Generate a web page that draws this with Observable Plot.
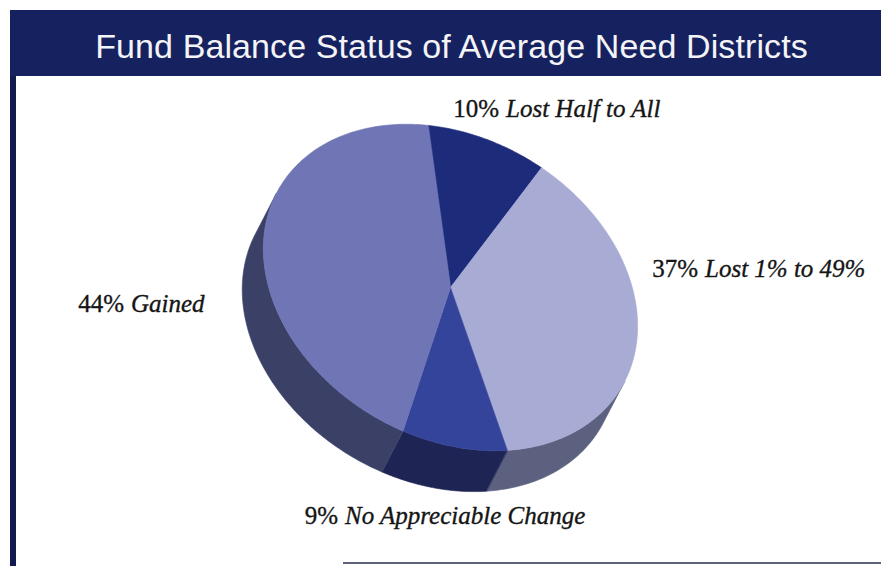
<!DOCTYPE html>
<html>
<head>
<meta charset="utf-8">
<script src="https://cdn.jsdelivr.net/npm/d3@7"></script>
<script src="https://cdn.jsdelivr.net/npm/@observablehq/plot@0.6"></script>
<style>
  html, body { margin: 0; padding: 0; background: #ffffff; width: 881px; height: 566px; overflow: hidden; }
  #leftBorder { position: absolute; left: 10px; top: 10px; width: 6px; height: 556px; background: #121a4e; }
  #title { position: absolute; left: 10px; top: 10px; width: 859px; height: 63px; padding: 3px 0 0 12px;
           background: #16225f; color: #f4f4f6; font-family: "Liberation Sans", sans-serif; font-size: 34px;
           letter-spacing: 0.1px; line-height: 66px; text-align: center; white-space: nowrap; }
  #chart { position: absolute; left: 16px; top: 76px; width: 865px; height: 490px; background: #ffffff; }
  #bottomLine { position: absolute; left: 343px; top: 562px; width: 538px; height: 2px; background: #5d627e; }
</style>
</head>
<body>
<div id="leftBorder"></div>
<div id="title">Fund Balance Status of Average Need Districts</div>
<div id="chart"></div>
<div id="bottomLine"></div>
<script>
// ---- data ----
const categories = ["Lost Half to All", "Lost 1% to 49%", "No Appreciable Change", "Gained"];
const percents = [10, 37, 9, 44];
const percentLabels = ["10%", "37%", "9%", "44%"];

// ---- styles ----
const topPalette  = ["#1c2c7a", "#a8acd5", "#35449b", "#6f75b5"];
const sidePalette = ["#161d4a", "#5c6180", "#1e2453", "#3b4067"];

// ---- layout (3D pie projection) ----
const W = 865, H = 490;
const PX = 198;               // pixels per unit radius
const cx = 434, cy = 211;     // pie centre inside the svg (px)
const tilt = 30 * Math.PI / 180;
const minor = 0.757;          // minor/major axis ratio of the tilted top face
const startDeg = -120.5;      // parametric angle where the first slice starts
const depthPx = 46;           // thickness of the pie
const sideCenterDeg = 88;     // parametric angle facing the viewer
// label anchors: offset (px) from pie centre of the gap between percent and italic text, baseline
const labelOffsets = [[52, -171], [251, -11], [-109, 236], [-323, 24]];

const rad = d => d * Math.PI / 180;
function rim(tDeg) {
  const t = rad(tDeg);
  return [Math.cos(t) * Math.cos(tilt) - minor * Math.sin(t) * Math.sin(tilt),
          Math.cos(t) * Math.sin(tilt) + minor * Math.sin(t) * Math.cos(tilt)];
}
const dv = rim(sideCenterDeg);
const dl = Math.hypot(dv[0], dv[1]);
const depth = [dv[0] / dl * depthPx / PX, dv[1] / dl * depthPx / PX];

// slices
const total = d3.sum(percents);
let acc = startDeg;
const slices = categories.map((c, i) => {
  const a0 = acc, a1 = acc + percents[i] / total * 360;
  acc = a1;
  return {key: c, i, a0, a1};
});

function arcPts(a0, a1) {
  const n = Math.max(2, Math.ceil(Math.abs(a1 - a0)));
  return d3.range(n + 1).map(k => rim(a0 + (a1 - a0) * k / n));
}

const topRows = [], sideRows = [];
for (const s of slices) {
  topRows.push({key: s.key, x: 0, y: 0, fill: topPalette[s.i]});
  for (const [x, y] of arcPts(s.a0, s.a1)) topRows.push({key: s.key, x, y, fill: topPalette[s.i]});
  // visible portion of the side wall
  const lo = Math.max(s.a0, sideCenterDeg - 90), hi = Math.min(s.a1, sideCenterDeg + 90);
  if (hi > lo) {
    const pts = arcPts(lo, hi);
    for (const [x, y] of pts) sideRows.push({key: s.key, x, y, fill: sidePalette[s.i]});
    for (const [x, y] of pts.slice().reverse()) sideRows.push({key: s.key, x: x + depth[0], y: y + depth[1], fill: sidePalette[s.i]});
  }
}

const labelRows = slices.map(s => ({
  pct: percentLabels[s.i], name: categories[s.i],
  x: labelOffsets[s.i][0] / PX, y: labelOffsets[s.i][1] / PX
}));

const chart = Plot.plot({
  width: W, height: H, margin: 0,
  x: {domain: [-cx / PX, (W - cx) / PX], axis: null},
  y: {domain: [-cy / PX, (H - cy) / PX], reverse: true, axis: null},
  marks: [
    Plot.line(sideRows, {x: "x", y: "y", z: "key", fill: "fill", stroke: "fill", strokeWidth: 0.6, curve: "linear-closed"}),
    Plot.line(topRows, {x: "x", y: "y", z: "key", fill: "fill", stroke: "fill", strokeWidth: 0.6, curve: "linear-closed"}),
    Plot.text(labelRows, {x: "x", y: "y", text: "pct", textAnchor: "end", lineAnchor: "bottom", dx: -3.5,
      fontFamily: "Liberation Serif", fontSize: 25, fill: "#151515", stroke: "#151515", strokeWidth: 0.35}),
    Plot.text(labelRows, {x: "x", y: "y", text: "name", textAnchor: "start", lineAnchor: "bottom", dx: 3.5,
      fontFamily: "Liberation Serif", fontStyle: "italic", fontSize: 25, fill: "#151515", stroke: "#151515", strokeWidth: 0.35})
  ]
});
document.getElementById("chart").appendChild(chart);
</script>
</body>
</html>
